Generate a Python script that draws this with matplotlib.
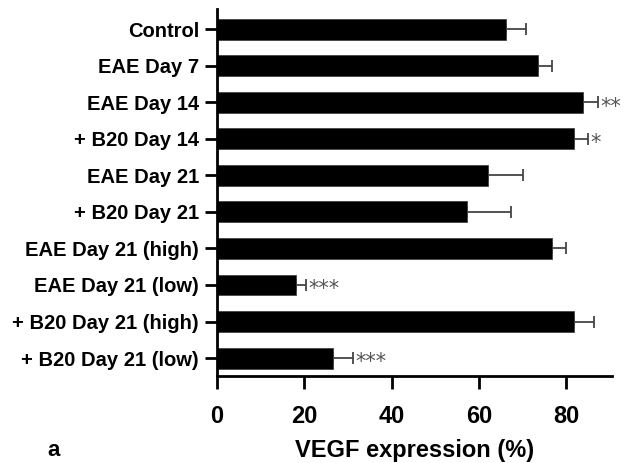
import matplotlib.pyplot as plt
import numpy as np

# Data
#
groups = ['Control', 'EAE Day 7', 'EAE Day 14', '+ B20 Day 14',
          'EAE Day 21', '+ B20 Day 21', 'EAE Day 21 (high)',
          'EAE Day 21 (low)', '+ B20 Day 21 (high)', '+ B20 Day 21 (low)']
vegf = [66.3, 73.5, 83.8, 81.9, 62.1, 57.3, 76.7, 18.2, 81.8, 26.6]
err = [4.4, 3.3, 3.5, 3.1, 8.0, 10.1, 3.3, 2.2, 4.6, 4.5]
stars = ['', '', '**', '*', '', '', '', '***', '', '***']
x_ticks = [0, 20, 40, 60, 80]

plt.rcParams['font.family'] = ['Liberation Sans', 'DejaVu Sans']
plt.rcParams['font.weight'] = 'bold'

fig = plt.figure(figsize=(6.26, 4.63), dpi=100)
ax = fig.add_axes([0.3466, 0.1879, 0.631, 0.7927])

y = np.arange(len(groups))
ax.barh(y, vegf, height=0.57, color='black', edgecolor='#444444',
        linewidth=0.6, zorder=2)
ax.errorbar(vegf, y, xerr=[np.zeros(len(err)), err], fmt='none',
            ecolor='#444444', elinewidth=1.3, capsize=4.3, capthick=1.3,
            zorder=1)

for k in range(len(groups)):
    if stars[k]:
        ax.text(vegf[k] + err[k] + 0.5, y[k] + 0.12, stars[k],
                family='DejaVu Sans', fontsize=15, color='#555555',
                fontweight='normal', va='center', ha='left')

ax.set_ylim(len(groups) - 1 + 0.49, -0.55)
ax.set_xlim(0, 90.5)
ax.set_yticks(y)
ax.set_yticklabels(groups, fontsize=14.5, fontweight='bold')
ax.set_xticks(x_ticks)
ax.set_xticklabels([str(v) for v in x_ticks], fontsize=17,
                   fontweight='bold')
ax.set_xlabel('VEGF expression (%)', fontsize=17, fontweight='bold',
              labelpad=8)

for s in ['top', 'right']:
    ax.spines[s].set_visible(False)
for s in ['left', 'bottom']:
    ax.spines[s].set_linewidth(2)
ax.tick_params(axis='both', width=2, length=9, direction='out')
ax.tick_params(axis='x', pad=12)
ax.tick_params(axis='y', pad=4)

fig.text(0.075, 0.004, 'a', fontsize=16, fontweight='bold', va='bottom')

plt.savefig('out.png', dpi=100)
